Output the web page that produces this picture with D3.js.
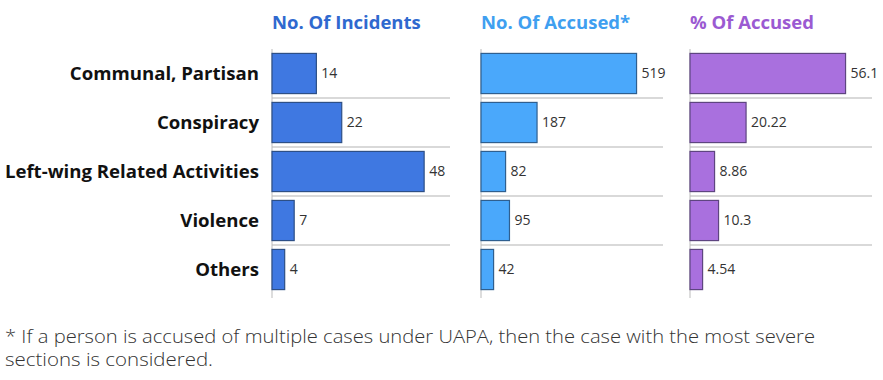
<!DOCTYPE html>
<html>
<head>
<meta charset="utf-8">
<script src="https://cdn.jsdelivr.net/npm/d3@7"></script>
<style>
  body { margin: 0; background: #fff; }
  svg text { font-family: "Open Sans", "DejaVu Sans", sans-serif; }
</style>
</head>
<body>
<svg id="chart" width="883" height="380"></svg>
<script>
// data
var categories = ["Communal, Partisan", "Conspiracy", "Left-wing Related Activities", "Violence", "Others"];
var incidents = [14, 22, 48, 7, 4];
var accused = [519, 187, 82, 95, 42];
var accusedPct = [56.1, 20.22, 8.86, 10.3, 4.54];
var panelTitles = ["No. Of Incidents", "No. Of Accused*", "% Of Accused"];
var footnoteLines = [
    "* If a person is accused of multiple cases under UAPA, then the case with the most severe",
    "sections is considered."
];

var svg = d3.select("#chart");

// panel setup
var panels = [
    { title: panelTitles[0], values: incidents, x0: 272, x1: 450, fill: "#3f78e1", stroke: "#2d4f86", titleColor: "#2f69cf" },
    { title: panelTitles[1], values: accused, x0: 481, x1: 663, fill: "#4aa8fb", stroke: "#2f5f8f", titleColor: "#3f9ff0" },
    { title: panelTitles[2], values: accusedPct, x0: 690, x1: 872, fill: "#a970de", stroke: "#5e4580", titleColor: "#9b5ad2" }
];

var y = d3.scaleBand()
    .domain(categories)
    .range([49, 294])
    .paddingInner(0.18)
    .paddingOuter(0.09);

// category labels
svg.selectAll(".cat")
    .data(categories)
    .enter().append("text")
    .attr("class", "cat")
    .attr("x", 259)
    .attr("y", d => y(d) + y.bandwidth() / 2)
    .attr("dy", "0.35em")
    .attr("text-anchor", "end")
    .style("font-size", "18.6px")
    .style("font-weight", "bold")
    .style("fill", "#111")
    .text(d => d);

panels.forEach(function (p) {
    var g = svg.append("g");
    var x = d3.scaleLinear()
        .domain([0, d3.max(p.values) * 1.17])
        .range([p.x0, p.x1]);

    // separators between rows
    g.selectAll(".sep")
        .data(categories.slice(1))
        .enter().append("line")
        .attr("x1", p.x0)
        .attr("x2", p.x1)
        .attr("y1", d => y(d) - y.step() * y.paddingInner() / 2)
        .attr("y2", d => y(d) - y.step() * y.paddingInner() / 2)
        .style("stroke", "#d9d9d9")
        .style("stroke-width", 2);

    // vertical axis line
    g.append("line")
        .attr("x1", p.x0).attr("x2", p.x0)
        .attr("y1", 49).attr("y2", 298)
        .style("stroke", "#bbb")
        .style("stroke-width", 1);

    g.selectAll(".bar")
        .data(p.values)
        .enter().append("rect")
        .attr("class", "bar")
        .attr("x", x(0))
        .attr("y", (d, i) => y(categories[i]))
        .attr("width", d => x(d) - x(0))
        .attr("height", y.bandwidth())
        .style("fill", p.fill)
        .style("stroke", p.stroke)
        .style("stroke-width", 1.2);

    g.selectAll(".val")
        .data(p.values)
        .enter().append("text")
        .attr("class", "val")
        .attr("x", d => x(d) + 5)
        .attr("y", (d, i) => y(categories[i]) + y.bandwidth() / 2)
        .attr("dy", "0.35em")
        .style("font-size", "14px")
        .style("fill", "#333")
        .text(d => d);

    g.append("text")
        .attr("x", p.x0)
        .attr("y", 29)
        .style("font-size", "18.5px")
        .style("font-weight", "bold")
        .style("fill", p.titleColor)
        .text(p.title);
});

// footnote
svg.selectAll(".foot")
    .data(footnoteLines)
    .enter().append("text")
    .attr("class", "foot")
    .attr("x", 5)
    .attr("y", (d, i) => 343 + i * 23)
    .style("font-size", "18px")
    .style("font-weight", 300)
    .style("fill", "#333")
    .attr("textLength", (d, i) => i == 0 ? 810 : 208)
    .attr("lengthAdjust", "spacingAndGlyphs")
    .text(d => d);
</script>
</body>
</html>
